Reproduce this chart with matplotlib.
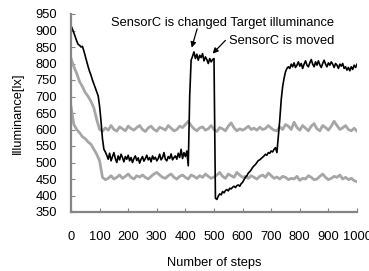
import numpy as np
import matplotlib
matplotlib.use("Agg")
import matplotlib.pyplot as plt

plt.rcParams['font.family'] = ['Liberation Sans', 'DejaVu Sans']
FS = 9.3
plt.rcParams['font.size'] = FS

# --- data -------------------------------------------------------------
gray_steps = np.arange(0, 1001, 10)
gray_upper = [
    815, 790, 770, 745, 730, 712, 700, 685, 665, 630,
    600, 595, 605, 598, 612, 600, 595, 608, 602, 596,
    610, 603, 598, 606, 612, 600, 594, 605, 610, 600,
    595, 607, 603, 598, 612, 604, 596, 600, 610, 606,
    615, 625, 612, 602, 596, 605, 608, 598, 602, 612,
    600, 594, 606, 602, 596, 610, 620, 605, 596, 602,
    598, 603, 610, 600, 604, 598, 607, 600, 603, 612,
    604, 598, 596, 608, 600, 615, 610, 600, 622, 606,
    598, 612, 604, 596, 610, 618, 602, 596, 612, 606,
    598, 610, 625, 612, 600, 605, 612, 600, 596, 604,
    595]
gray_lower = [
    670, 615, 600, 590, 578, 572, 562, 555, 540, 525,
    505, 455, 448, 452, 460, 450, 455, 462, 452, 458,
    465, 455, 450, 460, 456, 462, 455, 450, 458, 465,
    470, 462, 455, 452, 460, 465, 455, 450, 458, 462,
    455, 450, 462, 458, 452, 460, 455, 465, 458, 452,
    456, 462, 470, 458, 452, 465, 460, 455, 470, 462,
    455, 458, 452, 460, 455, 450, 458, 462, 455, 468,
    460, 452, 456, 450, 458, 455, 448, 452, 450, 458,
    446, 452, 450, 460, 455, 448, 450, 458, 465, 455,
    448, 452, 458, 455, 462, 450, 455, 448, 452, 445,
    442]

black_steps = np.arange(0, 1001, 5)
black_values = [
    # 0-120
    915, 904, 893, 880, 868, 858, 855, 850, 852, 838,
    822, 805, 790, 776, 764, 750, 738, 726, 714, 702,
    670, 625, 572, 540, 532,
    # 125-405
    522, 510, 528, 505, 518, 530, 512, 500, 520, 508,
    525, 515, 502, 518, 510, 522, 505, 515, 500, 512,
    520, 506, 514, 498, 510, 518, 504, 512, 522, 508,
    515, 502, 520, 510, 516, 505, 512, 525, 508, 515,
    530, 510, 505, 518, 512, 526, 508, 515, 520, 510,
    528, 515, 540, 512, 530, 518, 535,
    # 410-420
    490, 700, 810,
    # 425-500
    822, 835, 815, 828, 810, 825, 818, 830, 808, 820,
    812, 800, 815, 805, 812, 815,
    # 505-760
    392, 388, 398, 405, 402, 412, 408, 415, 418, 414,
    422, 420, 425, 428, 424, 430, 432, 428, 436, 440,
    448, 455, 460, 468, 472, 478, 485, 490, 494, 500,
    506, 508, 512, 516, 520, 525, 522, 530, 528, 535,
    532, 540, 545, 530, 580, 630, 690, 730, 755, 775,
    785, 790,
    # 765-1000
    785, 798, 790, 802, 788, 795, 805, 792, 800, 785,
    798, 808, 795, 790, 802, 812, 798, 790, 805, 795,
    808, 796, 788, 800, 810, 798, 790, 802, 795, 805,
    798, 788, 800, 795, 785, 798, 792, 800, 785, 790,
    780, 788, 778, 790, 782, 795, 788, 798]

x_ticks = list(range(0, 1001, 100))
y_ticks = list(range(350, 951, 50))

label_changed = "SensorC is changed Target illuminance"
label_moved = "SensorC is moved"

assert len(gray_upper) == len(gray_steps)
assert len(gray_lower) == len(gray_steps)
assert len(black_values) == len(black_steps)

# --- figure -----------------------------------------------------------
fig = plt.figure(figsize=(3.69, 2.71), dpi=100)
ax = fig.add_axes([71/369, 1 - 212/271, 286/369, 198/271])

gray = '#a6a6a6'
ax.plot(gray_steps, gray_upper, color=gray, lw=2.0)
ax.plot(gray_steps, gray_lower, color=gray, lw=2.0)
ax.plot(black_steps, black_values, color='black', lw=1.2)

ax.set_xlim(0, 1000)
ax.set_ylim(350, 950)
ax.set_xticks(x_ticks)
ax.set_yticks(y_ticks)

for s in ['top', 'right']:
    ax.spines[s].set_visible(False)
for s in ['left', 'bottom']:
    ax.spines[s].set_color('#858585')
    ax.spines[s].set_linewidth(1.6)

ax.tick_params(axis='both', direction='in', length=3, width=0.8, color='#858585',
               labelsize=FS)
ax.tick_params(axis='x', pad=13.5)
ax.tick_params(axis='y', pad=10)

ax.set_xlabel("Number of steps", fontsize=FS)
ax.set_ylabel("Illuminance[lx]", fontsize=FS)
ax.xaxis.set_label_coords(0.5, -0.226)
ax.yaxis.set_label_coords(-0.164, 0.5)

ax.text(139, 924, label_changed, fontsize=FS, va='center', ha='left', clip_on=False)
ax.text(553, 868, label_moved, fontsize=FS, va='center', ha='left', clip_on=False)

ax.annotate("", xy=(422, 848), xytext=(441, 905),
            arrowprops=dict(arrowstyle='-|>', color='black', lw=0.9, mutation_scale=8,
                            shrinkA=0, shrinkB=0))
ax.annotate("", xy=(495, 830), xytext=(540, 870),
            arrowprops=dict(arrowstyle='-|>', color='black', lw=0.9, mutation_scale=8,
                            shrinkA=0, shrinkB=0))

fig.savefig("out.png", dpi=100)
